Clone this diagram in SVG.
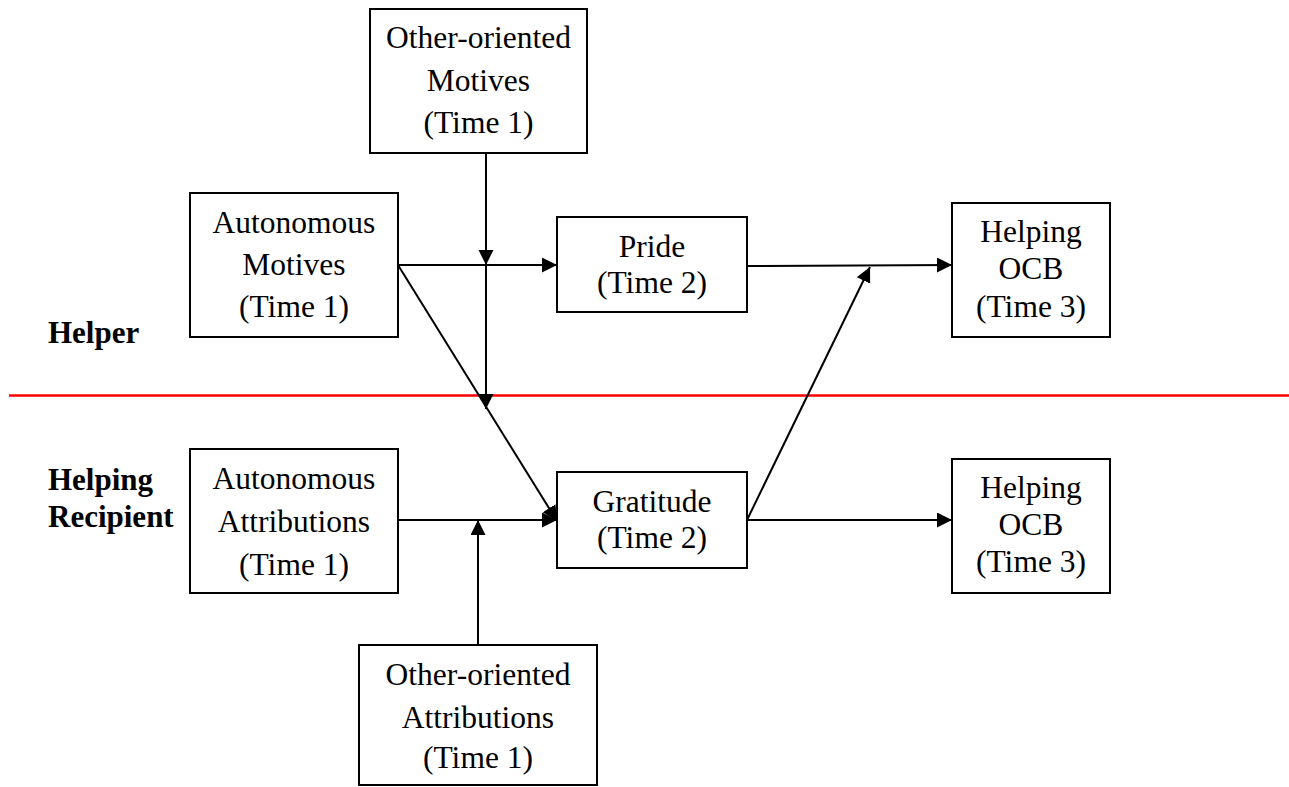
<svg xmlns="http://www.w3.org/2000/svg" width="1289" height="787" viewBox="0 0 1289 787">
  <style>
    .box { fill: #fff; stroke: #000; stroke-width: 2; }
    .t { font-family: "Liberation Serif", "Times New Roman", serif; font-size: 31.5px; fill: #000; text-anchor: middle; }
    .lbl { font-family: "Liberation Serif", "Times New Roman", serif; font-size: 31px; font-weight: bold; fill: #000; }
    .edge { stroke: #000; stroke-width: 2; fill: none; }
  </style>
  <defs>
    <marker id="arrow" markerUnits="userSpaceOnUse" markerWidth="16" markerHeight="16" refX="15" refY="7.5" orient="auto">
      <path d="M0,0 L15,7.5 L0,15 Z" fill="#000"/>
    </marker>
  </defs>

  <rect width="1289" height="787" fill="#fff"/>

  <!-- divider between helper and recipient -->
  <line x1="9" y1="395.5" x2="1289" y2="395.5" stroke="#ff0000" stroke-width="2.5"/>

  <!-- side labels -->
  <g id="label-helper">
    <text class="lbl" x="48" y="343">Helper</text>
  </g>
  <g id="label-recipient">
    <text class="lbl" x="48" y="490">Helping</text>
    <text class="lbl" x="48" y="527">Recipient</text>
  </g>

  <!-- connectors -->
  <g id="connectors">
    <line class="edge" x1="486" y1="153" x2="486" y2="265" marker-end="url(#arrow)"/>
    <line class="edge" x1="486" y1="265" x2="486" y2="409" marker-end="url(#arrow)"/>
    <line class="edge" x1="398" y1="265" x2="557" y2="265" marker-end="url(#arrow)"/>
    <line class="edge" x1="398" y1="265" x2="557" y2="521" marker-end="url(#arrow)"/>
    <line class="edge" x1="398" y1="520" x2="557" y2="520" marker-end="url(#arrow)"/>
    <line class="edge" x1="478" y1="645" x2="478" y2="520" marker-end="url(#arrow)"/>
    <line class="edge" x1="747" y1="266" x2="952" y2="265" marker-end="url(#arrow)"/>
    <line class="edge" x1="747" y1="520" x2="870" y2="267" marker-end="url(#arrow)"/>
    <line class="edge" x1="747" y1="520" x2="952" y2="520" marker-end="url(#arrow)"/>
  </g>

  <g id="other-motives">
    <rect class="box" x="370" y="9" width="217" height="144"/>
    <text class="t" x="478.5" y="48">Other-oriented</text>
    <text class="t" x="478.5" y="91">Motives</text>
    <text class="t" x="478.5" y="133">(Time 1)</text>
  </g>

  <g id="autonomous-motives">
    <rect class="box" x="190" y="193" width="208" height="144"/>
    <text class="t" x="294" y="233">Autonomous</text>
    <text class="t" x="294" y="275">Motives</text>
    <text class="t" x="294" y="317">(Time 1)</text>
  </g>

  <g id="pride">
    <rect class="box" x="557" y="217" width="190" height="95"/>
    <text class="t" x="652" y="257">Pride</text>
    <text class="t" x="652" y="293">(Time 2)</text>
  </g>

  <g id="helping-ocb-helper">
    <rect class="box" x="952" y="203" width="158" height="134"/>
    <text class="t" x="1031" y="242">Helping</text>
    <text class="t" x="1031" y="279">OCB</text>
    <text class="t" x="1031" y="317">(Time 3)</text>
  </g>

  <g id="autonomous-attributions">
    <rect class="box" x="190" y="449" width="208" height="144"/>
    <text class="t" x="294" y="489">Autonomous</text>
    <text class="t" x="294" y="532">Attributions</text>
    <text class="t" x="294" y="575">(Time 1)</text>
  </g>

  <g id="gratitude">
    <rect class="box" x="557" y="472" width="190" height="96"/>
    <text class="t" x="652" y="512">Gratitude</text>
    <text class="t" x="652" y="548">(Time 2)</text>
  </g>

  <g id="helping-ocb-recipient">
    <rect class="box" x="952" y="459" width="158" height="134"/>
    <text class="t" x="1031" y="498">Helping</text>
    <text class="t" x="1031" y="535">OCB</text>
    <text class="t" x="1031" y="572">(Time 3)</text>
  </g>

  <g id="other-attributions">
    <rect class="box" x="359" y="645" width="238" height="140"/>
    <text class="t" x="478" y="685">Other-oriented</text>
    <text class="t" x="478" y="728">Attributions</text>
    <text class="t" x="478" y="768">(Time 1)</text>
  </g>
</svg>
